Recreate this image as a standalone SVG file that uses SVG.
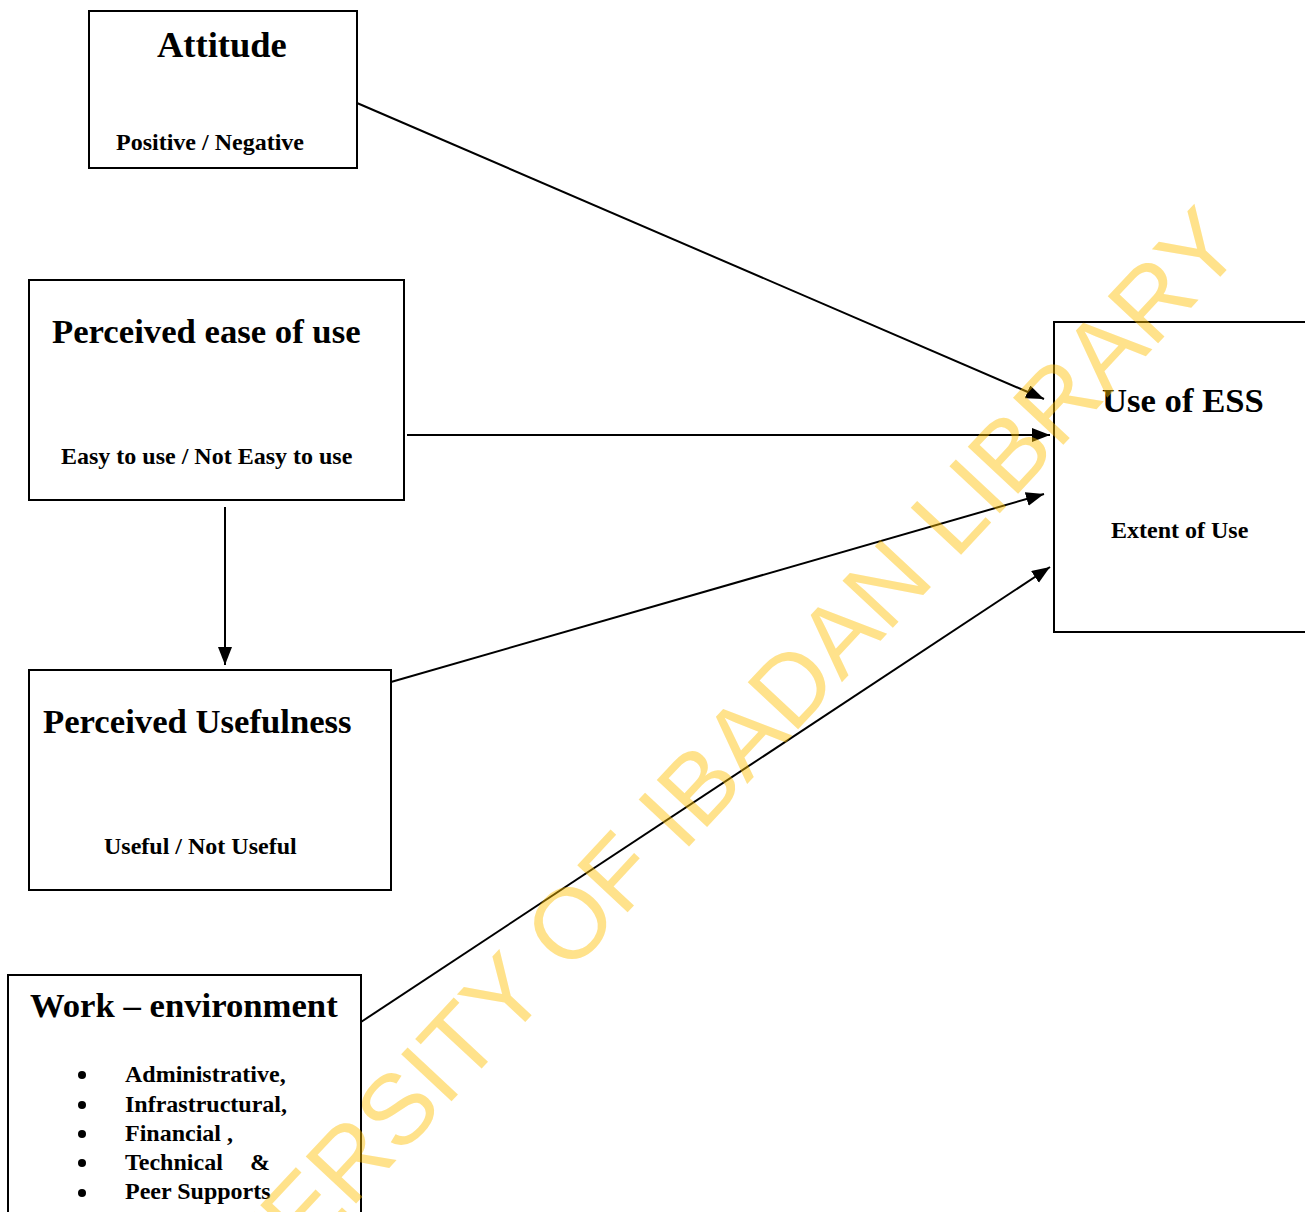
<svg xmlns="http://www.w3.org/2000/svg" width="1305" height="1212" viewBox="0 0 1305 1212">
<style>
.box{fill:#fff;stroke:#000;stroke-width:2}
.t{font-family:"Liberation Serif","Times New Roman",serif;font-weight:bold;fill:#000}
.h{font-size:34.7px}
.s{font-size:24px}
.c{stroke:#000;stroke-width:2;fill:none;marker-end:url(#ah)}
.wm{font-family:"Liberation Sans",Arial,sans-serif;font-size:100px;fill:#FFC000;opacity:0.45}
</style>
<defs>
<marker id="ah" markerUnits="userSpaceOnUse" markerWidth="19" markerHeight="15" refX="18" refY="7" orient="auto">
<path d="M0,0 L18,7 L0,14 z" fill="#000"/>
</marker>
</defs>
<rect width="1305" height="1212" fill="#fff"/>
<g id="connectors">
<line class="c" x1="357" y1="103" x2="1044" y2="399"/>
<line class="c" x1="407" y1="435" x2="1050" y2="435"/>
<line class="c" x1="391" y1="682" x2="1044" y2="494"/>
<line class="c" x1="361" y1="1022" x2="1050" y2="567"/>
<line class="c" x1="225" y1="507" x2="225" y2="665"/>
</g>
<g id="attitude">
<rect class="box" x="89" y="11" width="268" height="157"/>
<text class="t" x="157" y="57" font-size="36.5px">Attitude</text>
<text class="t s" x="116" y="150">Positive / Negative</text>
</g>
<g id="peou">
<rect class="box" x="29" y="280" width="375" height="220"/>
<text class="t h" x="52" y="343">Perceived ease of use</text>
<text class="t s" x="61" y="464">Easy to use / Not Easy to use</text>
</g>
<g id="pu">
<rect class="box" x="29" y="670" width="362" height="220"/>
<text class="t h" x="43" y="733">Perceived Usefulness</text>
<text class="t s" x="104" y="854">Useful / Not Useful</text>
</g>
<g id="use-ess">
<rect class="box" x="1054" y="322" width="300" height="310"/>
<text class="t h" x="1102" y="412">Use of ESS</text>
<text class="t s" x="1111" y="538">Extent of Use</text>
</g>
<g id="work-env">
<rect class="box" x="8" y="975" width="353" height="300"/>
<text class="t h" x="30" y="1017">Work – environment</text>
<g fill="#000">
<circle cx="82" cy="1075" r="4"/>
<circle cx="82" cy="1105" r="4"/>
<circle cx="82" cy="1134" r="4"/>
<circle cx="82" cy="1163" r="4"/>
<circle cx="82" cy="1193" r="4"/>
</g>
<text class="t s" x="125" y="1082">Administrative,</text>
<text class="t s" x="125" y="1112">Infrastructural,</text>
<text class="t s" x="125" y="1141">Financial ,</text>
<text class="t s" x="125" y="1170">Technical</text>
<text class="t s" x="250" y="1170">&amp;</text>
<text class="t s" x="125" y="1199">Peer Supports</text>
</g>
<text class="wm" transform="translate(142,1433) rotate(-47)">UNIVERSITY OF IBADAN LIBRARY</text>
</svg>
